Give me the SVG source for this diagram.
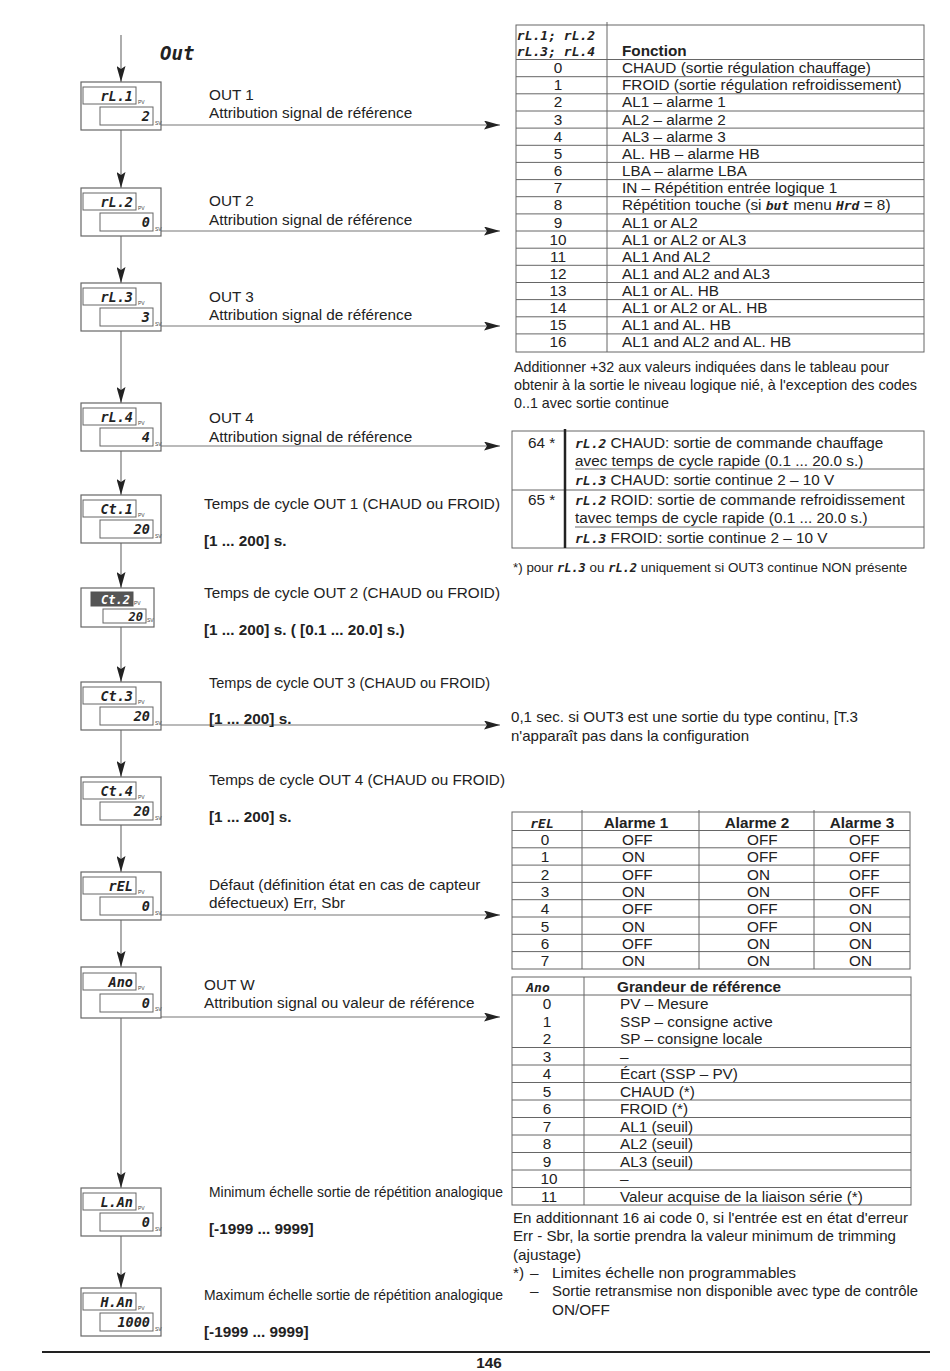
<svg xmlns="http://www.w3.org/2000/svg" width="950" height="1371" viewBox="0 0 950 1371">
<style>
.t{font-family:"Liberation Sans",Arial,Helvetica,sans-serif;font-size:15.3px;fill:#222}
.b{font-weight:bold}
.p{font-size:14.3px}
.c{text-anchor:middle}
.sg{font-family:"DejaVu Sans Mono",monospace;font-weight:bold;font-style:italic;font-size:13px}
.seg{font-family:"DejaVu Sans Mono",monospace;font-weight:bold;font-style:italic;font-size:13.5px;fill:#222;text-anchor:end}
.lbl{font-family:"Liberation Sans",sans-serif;font-size:5px;fill:#444}
.dev{fill:#fff;stroke:#666;stroke-width:1.2}
.disp{fill:#fff;stroke:#666;stroke-width:1}
.conn{stroke:#777;stroke-width:1.2;fill:none;marker-end:url(#ah)}
.g{stroke:#666;stroke-width:1;fill:none}
</style>
<defs>
<marker id="ah" markerUnits="userSpaceOnUse" markerWidth="16" markerHeight="9" viewBox="0 0 16 9" refX="16" refY="4.5" orient="auto"><path d="M0,0 L16,4.5 L0,9 L3,4.5 z" fill="#222"/></marker>
</defs>
<rect width="950" height="1371" fill="#fff"/>

<text class="sg" x="160" y="60" style="font-size:19px;fill:#222">Out</text>

<!-- connectors -->
<g id="connectors">
<path class="conn" d="M121,35 V82"/>
<path class="conn" d="M121,130 V188"/>
<path class="conn" d="M121,236 V283"/>
<path class="conn" d="M121,331 V403"/>
<path class="conn" d="M121,451 V495"/>
<path class="conn" d="M121,543 V588"/>
<path class="conn" d="M121,627 V682"/>
<path class="conn" d="M121,730 V777"/>
<path class="conn" d="M121,825 V872"/>
<path class="conn" d="M121,920 V967"/>
<path class="conn" d="M121,1018 V1188"/>
<path class="conn" d="M121,1236 V1288"/>
<path class="conn" d="M161,125 H500"/>
<path class="conn" d="M161,231 H500"/>
<path class="conn" d="M161,326 H500"/>
<path class="conn" d="M161,446 H500"/>
<path class="conn" d="M161,725 H500"/>
<path class="conn" d="M161,915 H500"/>
<path class="conn" d="M161,1017 H500"/>
</g>

<!-- devices -->
<g id="n-rl1">
<rect class="dev" x="81" y="82" width="80" height="48"/>
<rect class="disp" x="83" y="87" width="53" height="17"/>
<rect class="disp" x="100" y="107" width="53" height="18"/>
<text class="seg" x="133" y="101">rL.1</text>
<text class="seg" x="150" y="121">2</text>
<text class="lbl" x="138" y="104">PV</text>
<text class="lbl" x="155" y="125">SV</text>
</g>
<g id="n-rl2">
<rect class="dev" x="81" y="188" width="80" height="48"/>
<rect class="disp" x="83" y="193" width="53" height="17"/>
<rect class="disp" x="100" y="213" width="53" height="18"/>
<text class="seg" x="133" y="207">rL.2</text>
<text class="seg" x="150" y="227">0</text>
<text class="lbl" x="138" y="210">PV</text>
<text class="lbl" x="155" y="231">SV</text>
</g>
<g id="n-rl3">
<rect class="dev" x="81" y="283" width="80" height="48"/>
<rect class="disp" x="83" y="288" width="53" height="17"/>
<rect class="disp" x="100" y="308" width="53" height="18"/>
<text class="seg" x="133" y="302">rL.3</text>
<text class="seg" x="150" y="322">3</text>
<text class="lbl" x="138" y="305">PV</text>
<text class="lbl" x="155" y="326">SV</text>
</g>
<g id="n-rl4">
<rect class="dev" x="81" y="403" width="80" height="48"/>
<rect class="disp" x="83" y="408" width="53" height="17"/>
<rect class="disp" x="100" y="428" width="53" height="18"/>
<text class="seg" x="133" y="422">rL.4</text>
<text class="seg" x="150" y="442">4</text>
<text class="lbl" x="138" y="425">PV</text>
<text class="lbl" x="155" y="446">SV</text>
</g>
<g id="n-ct1">
<rect class="dev" x="81" y="495" width="80" height="48"/>
<rect class="disp" x="83" y="500" width="53" height="17"/>
<rect class="disp" x="100" y="520" width="53" height="18"/>
<text class="seg" x="133" y="514">Ct.1</text>
<text class="seg" x="150" y="534">20</text>
<text class="lbl" x="138" y="517">PV</text>
<text class="lbl" x="155" y="538">SV</text>
</g>
<g id="n-ct2">
<rect class="dev" x="81" y="588" width="73" height="39"/>
<rect x="91" y="592" width="42" height="14" fill="#555" stroke="#555"/>
<rect class="disp" x="103" y="609" width="43" height="14"/>
<text class="seg" x="130" y="604" style="fill:#fff;font-size:12px">Ct.2</text>
<text class="seg" x="143" y="621" style="font-size:12px">20</text>
<text class="lbl" x="134" y="605">PV</text>
<text class="lbl" x="147" y="622">SV</text>
</g>
<g id="n-ct3">
<rect class="dev" x="81" y="682" width="80" height="48"/>
<rect class="disp" x="83" y="687" width="53" height="17"/>
<rect class="disp" x="100" y="707" width="53" height="18"/>
<text class="seg" x="133" y="701">Ct.3</text>
<text class="seg" x="150" y="721">20</text>
<text class="lbl" x="138" y="704">PV</text>
<text class="lbl" x="155" y="725">SV</text>
</g>
<g id="n-ct4">
<rect class="dev" x="81" y="777" width="80" height="48"/>
<rect class="disp" x="83" y="782" width="53" height="17"/>
<rect class="disp" x="100" y="802" width="53" height="18"/>
<text class="seg" x="133" y="796">Ct.4</text>
<text class="seg" x="150" y="816">20</text>
<text class="lbl" x="138" y="799">PV</text>
<text class="lbl" x="155" y="820">SV</text>
</g>
<g id="n-rel">
<rect class="dev" x="81" y="872" width="80" height="48"/>
<rect class="disp" x="83" y="877" width="53" height="17"/>
<rect class="disp" x="100" y="897" width="53" height="18"/>
<text class="seg" x="133" y="891">rEL</text>
<text class="seg" x="150" y="911">0</text>
<text class="lbl" x="138" y="894">PV</text>
<text class="lbl" x="155" y="915">SV</text>
</g>
<g id="n-ano">
<rect class="dev" x="81" y="967" width="80" height="51"/>
<rect class="disp" x="83" y="973" width="53" height="17"/>
<rect class="disp" x="100" y="994" width="53" height="18"/>
<text class="seg" x="133" y="987">Ano</text>
<text class="seg" x="150" y="1008">0</text>
<text class="lbl" x="138" y="990">PV</text>
<text class="lbl" x="155" y="1011">SV</text>
</g>
<g id="n-lan">
<rect class="dev" x="81" y="1188" width="80" height="48"/>
<rect class="disp" x="83" y="1193" width="53" height="17"/>
<rect class="disp" x="100" y="1213" width="53" height="18"/>
<text class="seg" x="133" y="1207">L.An</text>
<text class="seg" x="150" y="1227">0</text>
<text class="lbl" x="138" y="1210">PV</text>
<text class="lbl" x="155" y="1231">SV</text>
</g>
<g id="n-han">
<rect class="dev" x="81" y="1288" width="80" height="48"/>
<rect class="disp" x="83" y="1293" width="53" height="17"/>
<rect class="disp" x="100" y="1313" width="53" height="18"/>
<text class="seg" x="133" y="1307">H.An</text>
<text class="seg" x="150" y="1327">1000</text>
<text class="lbl" x="138" y="1310">PV</text>
<text class="lbl" x="155" y="1331">SV</text>
</g>

<!-- left descriptions -->
<g id="descriptions" class="t">
<text x="209" y="100">OUT 1</text>
<text x="209" y="118">Attribution signal de référence</text>
<text x="209" y="206">OUT 2</text>
<text x="209" y="225">Attribution signal de référence</text>
<text x="209" y="302">OUT 3</text>
<text x="209" y="320">Attribution signal de référence</text>
<text x="209" y="423">OUT 4</text>
<text x="209" y="442">Attribution signal de référence</text>
<text x="204" y="509" textLength="296" lengthAdjust="spacingAndGlyphs">Temps de cycle OUT 1 (CHAUD ou FROID)</text>
<text x="204" y="546" class="b">[1 ... 200] s.</text>
<text x="204" y="598" textLength="296" lengthAdjust="spacingAndGlyphs">Temps de cycle OUT 2 (CHAUD ou FROID)</text>
<text x="204" y="635" class="b">[1 ... 200] s. ( [0.1 ... 20.0] s.)</text>
<text x="209" y="688" textLength="281" lengthAdjust="spacingAndGlyphs">Temps de cycle OUT 3 (CHAUD ou FROID)</text>
<text x="209" y="724" class="b">[1 ... 200] s.</text>
<text x="209" y="785" textLength="296" lengthAdjust="spacingAndGlyphs">Temps de cycle OUT 4 (CHAUD ou FROID)</text>
<text x="209" y="822" class="b">[1 ... 200] s.</text>
<text x="209" y="890">Défaut (définition état en cas de capteur</text>
<text x="209" y="908">défectueux) Err, Sbr</text>
<text x="204" y="990">OUT W</text>
<text x="204" y="1008">Attribution signal ou valeur de référence</text>
<text x="209" y="1197" textLength="294" lengthAdjust="spacingAndGlyphs">Minimum échelle sortie de répétition analogique</text>
<text x="209" y="1234" class="b">[-1999 ... 9999]</text>
<text x="204" y="1300" textLength="299" lengthAdjust="spacingAndGlyphs">Maximum échelle sortie de répétition analogique</text>
<text x="204" y="1337" class="b">[-1999 ... 9999]</text>
</g>

<!-- table rL -->
<g id="table-rl">
<rect class="g" x="516" y="25" width="408" height="327"/>
<path class="g" d="M607,22 V352 M516,59.5 H924 M516,76.7 H924 M516,93.8 H924 M516,111 H924 M516,128.1 H924 M516,145.3 H924 M516,162.4 H924 M516,179.6 H924 M516,196.7 H924 M516,213.9 H924 M516,231 H924 M516,248.2 H924 M516,265.3 H924 M516,282.5 H924 M516,299.6 H924 M516,316.8 H924 M516,333.9 H924"/>
<g class="t">
<text class="sg c" x="556" y="40" style="fill:#222">rL.1; rL.2</text>
<text class="sg c" x="556" y="56" style="fill:#222">rL.3; rL.4</text>
<text class="b" x="622" y="56">Fonction</text>
<g class="c">
<text x="558" y="73">0</text><text x="558" y="90">1</text><text x="558" y="107">2</text><text x="558" y="124.5">3</text>
<text x="558" y="141.5">4</text><text x="558" y="159">5</text><text x="558" y="176">6</text><text x="558" y="193">7</text>
<text x="558" y="210">8</text><text x="558" y="227.5">9</text><text x="558" y="244.5">10</text><text x="558" y="261.5">11</text>
<text x="558" y="279">12</text><text x="558" y="296">13</text><text x="558" y="313">14</text><text x="558" y="330">15</text>
<text x="558" y="347">16</text>
</g>
<text x="622" y="73">CHAUD (sortie régulation chauffage)</text>
<text x="622" y="90">FROID (sortie régulation refroidissement)</text>
<text x="622" y="107">AL1 – alarme 1</text>
<text x="622" y="124.5">AL2 – alarme 2</text>
<text x="622" y="141.5">AL3 – alarme 3</text>
<text x="622" y="159">AL. HB – alarme HB</text>
<text x="622" y="176">LBA – alarme LBA</text>
<text x="622" y="193">IN – Répétition entrée logique 1</text>
<text x="622" y="210">Répétition touche (si <tspan class="sg">but</tspan> menu <tspan class="sg">Hrd</tspan> = 8)</text>
<text x="622" y="227.5">AL1 or AL2</text>
<text x="622" y="244.5">AL1 or AL2 or AL3</text>
<text x="622" y="261.5">AL1 And AL2</text>
<text x="622" y="279">AL1 and AL2 and AL3</text>
<text x="622" y="296">AL1 or AL. HB</text>
<text x="622" y="313">AL1 or AL2 or AL. HB</text>
<text x="622" y="330">AL1 and AL. HB</text>
<text x="622" y="347">AL1 and AL2 and AL. HB</text>
</g>
</g>

<g id="note-rl" class="t p">
<text x="514" y="372" textLength="375" lengthAdjust="spacingAndGlyphs">Additionner +32 aux valeurs indiquées dans le tableau pour</text>
<text x="514" y="390" textLength="403" lengthAdjust="spacingAndGlyphs">obtenir à la sortie le niveau logique nié, à l'exception des codes</text>
<text x="514" y="408" textLength="155" lengthAdjust="spacingAndGlyphs">0..1 avec sortie continue</text>
</g>

<!-- table 64/65 -->
<g id="table-64">
<rect class="g" x="512" y="431" width="412" height="117"/>
<path class="g" d="M512,490 H924 M575,469 H924 M575,527 H924"/>
<path d="M565,429 V548" stroke="#222" stroke-width="2.5"/>
<g class="t">
<text x="528" y="448">64 *</text>
<text x="575" y="448"><tspan class="sg">rL.2</tspan> CHAUD: sortie de commande chauffage</text>
<text x="575" y="466">avec temps de cycle rapide (0.1 ... 20.0 s.)</text>
<text x="575" y="485"><tspan class="sg">rL.3</tspan> CHAUD: sortie continue 2 – 10 V</text>
<text x="528" y="505">65 *</text>
<text x="575" y="505"><tspan class="sg">rL.2</tspan> ROID: sortie de commande refroidissement</text>
<text x="575" y="523">tavec temps de cycle rapide (0.1 ... 20.0 s.)</text>
<text x="575" y="543"><tspan class="sg">rL.3</tspan> FROID: sortie continue 2 – 10 V</text>
</g>
</g>
<text class="t" x="513" y="572" style="font-size:13.4px">*) pour <tspan class="sg" style="font-size:12px">rL.3</tspan> ou <tspan class="sg" style="font-size:12px">rL.2</tspan>  uniquement si OUT3 continue NON présente</text>

<g id="note-ct3" class="t p">
<text x="511" y="722" textLength="347" lengthAdjust="spacingAndGlyphs">0,1 sec. si OUT3 est une sortie du type continu, [T.3</text>
<text x="511" y="741" textLength="238" lengthAdjust="spacingAndGlyphs">n'apparaît pas dans la configuration</text>
</g>

<!-- table rEL -->
<g id="table-rel">
<rect class="g" x="512" y="812" width="398" height="157"/>
<path class="g" d="M582,810 V969 M699,810 V969 M814,810 V969 M512,830.5 H910 M512,847.8 H910 M512,865.1 H910 M512,882.4 H910 M512,899.7 H910 M512,917 H910 M512,934.3 H910 M512,951.6 H910"/>
<g class="t">
<text class="sg c" x="542" y="828" style="fill:#222">rEL</text>
<text class="b c" x="636" y="828">Alarme 1</text>
<text class="b c" x="757" y="828">Alarme 2</text>
<text class="b c" x="862" y="828">Alarme 3</text>
<g class="c">
<text x="545" y="845">0</text><text x="545" y="862.3">1</text><text x="545" y="879.6">2</text><text x="545" y="896.9">3</text>
<text x="545" y="914.2">4</text><text x="545" y="931.5">5</text><text x="545" y="948.8">6</text><text x="545" y="966">7</text>
</g>
<text x="622" y="845">OFF</text><text x="747" y="845">OFF</text><text x="849" y="845">OFF</text>
<text x="622" y="862.3">ON</text><text x="747" y="862.3">OFF</text><text x="849" y="862.3">OFF</text>
<text x="622" y="879.6">OFF</text><text x="747" y="879.6">ON</text><text x="849" y="879.6">OFF</text>
<text x="622" y="896.9">ON</text><text x="747" y="896.9">ON</text><text x="849" y="896.9">OFF</text>
<text x="622" y="914.2">OFF</text><text x="747" y="914.2">OFF</text><text x="849" y="914.2">ON</text>
<text x="622" y="931.5">ON</text><text x="747" y="931.5">OFF</text><text x="849" y="931.5">ON</text>
<text x="622" y="948.8">OFF</text><text x="747" y="948.8">ON</text><text x="849" y="948.8">ON</text>
<text x="622" y="966">ON</text><text x="747" y="966">ON</text><text x="849" y="966">ON</text>
</g>
</g>

<!-- table Ano -->
<g id="table-ano">
<rect class="g" x="512" y="977" width="399" height="228"/>
<path class="g" d="M584,977 V1205 M512,995 H911 M512,1047.5 H911 M512,1065 H911 M512,1082.5 H911 M512,1100 H911 M512,1117.5 H911 M512,1135 H911 M512,1152.5 H911 M512,1170 H911 M512,1187.5 H911"/>
<g class="t">
<text class="sg c" x="538" y="992" style="fill:#222">Ano</text>
<text class="b" x="617" y="992">Grandeur de référence</text>
<g class="c">
<text x="547" y="1009">0</text><text x="547" y="1026.5">1</text><text x="547" y="1044">2</text><text x="547" y="1061.5">3</text>
<text x="547" y="1079">4</text><text x="547" y="1096.5">5</text><text x="547" y="1114">6</text><text x="547" y="1131.5">7</text>
<text x="547" y="1149">8</text><text x="547" y="1166.5">9</text><text x="549" y="1184">10</text><text x="549" y="1201.5">11</text>
</g>
<text x="620" y="1009">PV – Mesure</text>
<text x="620" y="1026.5">SSP – consigne active</text>
<text x="620" y="1044">SP – consigne locale</text>
<text x="620" y="1061.5">–</text>
<text x="620" y="1079">Écart (SSP – PV)</text>
<text x="620" y="1096.5">CHAUD (*)</text>
<text x="620" y="1114">FROID (*)</text>
<text x="620" y="1131.5">AL1 (seuil)</text>
<text x="620" y="1149">AL2 (seuil)</text>
<text x="620" y="1166.5">AL3 (seuil)</text>
<text x="620" y="1184">–</text>
<text x="620" y="1201.5">Valeur acquise de la liaison série (*)</text>
</g>
</g>

<g id="note-ano" class="t">
<text x="513" y="1223" textLength="395" lengthAdjust="spacingAndGlyphs">En additionnant 16 ai code 0, si l'entrée est en état d'erreur</text>
<text x="513" y="1241" textLength="383" lengthAdjust="spacingAndGlyphs">Err - Sbr, la sortie prendra la valeur minimum de trimming</text>
<text x="513" y="1260">(ajustage)</text>
<text x="513" y="1278">*)</text>
<text x="530" y="1278">–</text>
<text x="552" y="1278" textLength="244" lengthAdjust="spacingAndGlyphs">Limites échelle non programmables</text>
<text x="530" y="1296">–</text>
<text x="552" y="1296" textLength="366" lengthAdjust="spacingAndGlyphs">Sortie retransmise non disponible avec type de contrôle</text>
<text x="552" y="1315">ON/OFF</text>
</g>

<g id="footer">
<line x1="42" y1="1352" x2="930" y2="1352" stroke="#222" stroke-width="2"/>
<text class="t b c" x="489" y="1368">146</text>
</g>
</svg>
